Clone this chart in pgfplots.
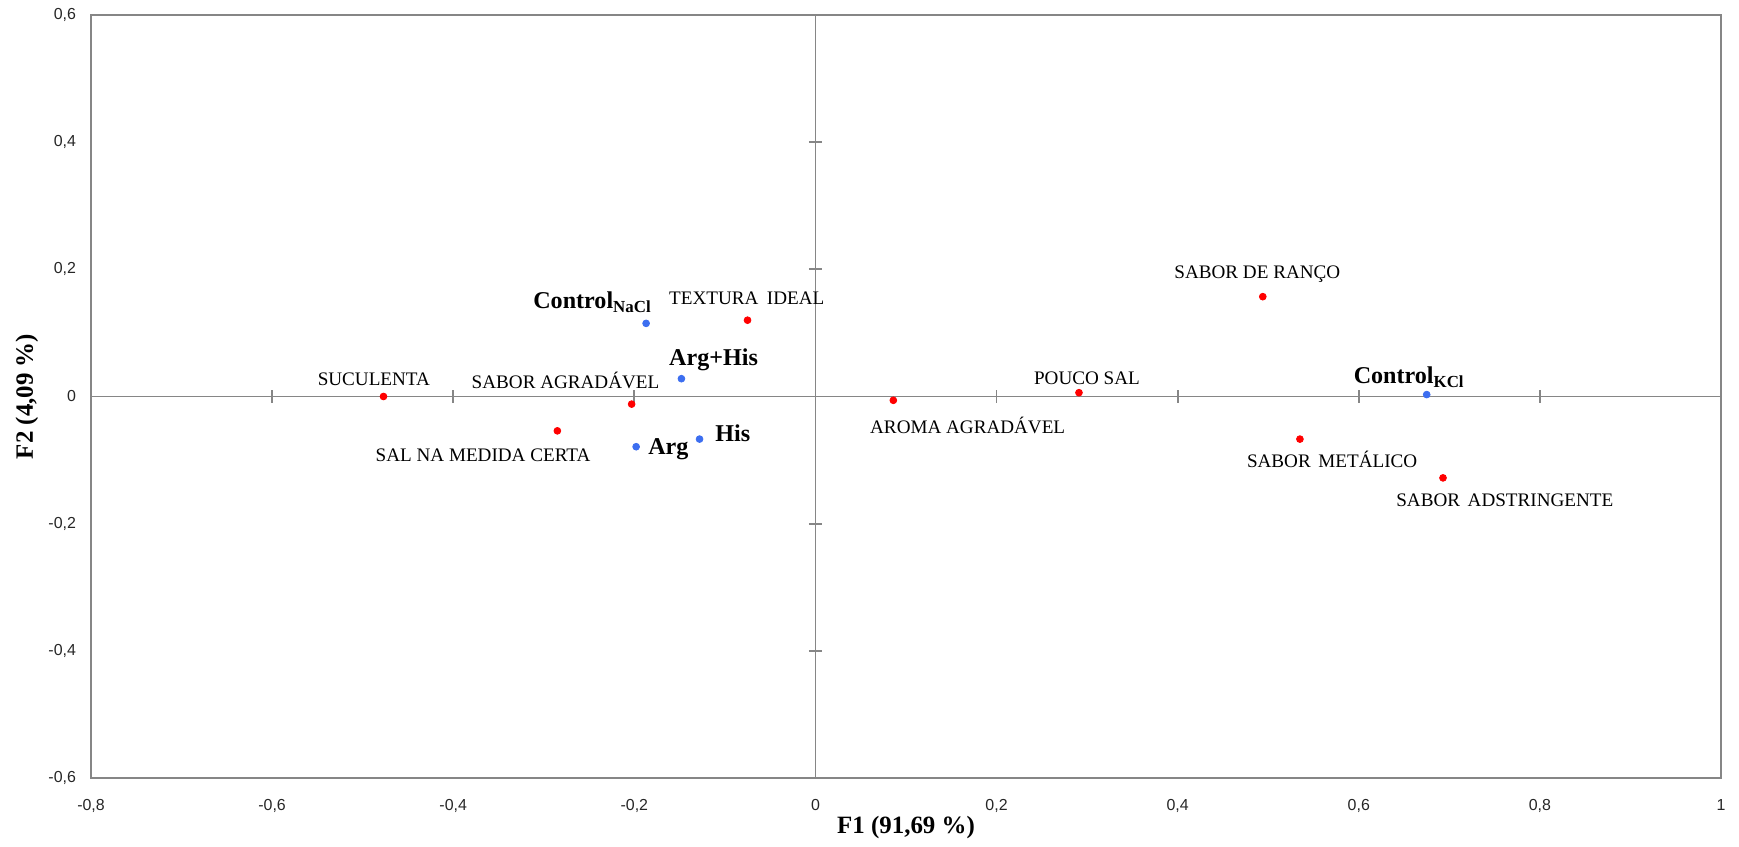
\documentclass[border=0pt]{standalone}
\usepackage{fontspec}
\setmainfont{Liberation Serif}
\newfontfamily\ticksans{Liberation Sans}
\usepackage{pgfplots}
\pgfplotsset{compat=1.18}
\definecolor{ptred}{RGB}{255,0,0}
\definecolor{ptblue}{RGB}{60,110,240}
\definecolor{axgray}{RGB}{134,134,134}
\newcommand\lab{\fontsize{9.6}{11}\selectfont}
\newcommand\blab{\bfseries\fontsize{12.1}{14}\selectfont}

\pgfplotstableread{
x y
-0.477 0.000
-0.285 -0.054
-0.203 -0.012
-0.075 0.120
0.086 -0.006
0.291 0.006
0.494 0.157
0.535 -0.067
0.693 -0.128
}\attributes

\pgfplotstableread{
x y
-0.187 0.115
-0.148 0.028
-0.198 -0.079
-0.128 -0.067
0.675 0.003
}\samples

\begin{document}
\begin{tikzpicture}
\useasboundingbox (-45.5bp,-34.5bp) rectangle (824bp,389bp);
\pgfplotsset{common/.style={scale only axis, width=815bp, height=381.5bp,
  xmin=-0.8, xmax=1, ymin=-0.6, ymax=0.6,
  xtick={-0.8,-0.6,-0.4,-0.2,0,0.2,0.4,0.6,0.8,1},
  ytick={-0.6,-0.4,-0.2,0,0.2,0.4,0.6},
  at={(0,0)}, anchor=south west}}
\begin{axis}[common,
  axis line style={axgray, line width=0.9bp},
  major tick length=0pt, tick style={draw=none},
  ticklabel style={font=\ticksans\fontsize{8}{9}\selectfont, text=black!85},
  /pgf/number format/.cd, use comma, assume math mode=true, /pgfplots/.cd,
  xticklabel style={yshift=-7bp},
  yticklabel style={xshift=-4bp},
  xlabel={F1 (91,69 \%)}, ylabel={F2 (4,09 \%)},
  label style={font=\bfseries\fontsize{12.5}{14}\selectfont},
  xlabel style={at={(axis description cs:0.5,-0.0655)}, anchor=center},
  ylabel style={at={(axis description cs:-0.0393,0.5)}, anchor=center}]
\end{axis}
\begin{axis}[common, axis lines=middle,
  axis line style={axgray, line width=0.9bp, -},
  tick style={axgray, line width=0.9bp},
  major tick length=6.5bp, tick align=center,
  xticklabels={}, yticklabels={}, clip=false]
\addplot[only marks, mark=*, mark size=1.7bp, mark options={draw=ptred, fill=ptred}] table {\attributes};
\addplot[only marks, mark=*, mark size=1.7bp, mark options={draw=ptblue, fill=ptblue}] table {\samples};
\node[anchor=base west, inner sep=0, font=\lab] at (axis cs:-0.550,0.018) {SUCULENTA};
\node[anchor=base west, inner sep=0, font=\lab] at (axis cs:-0.380,0.0125) {SABOR AGRADÁVEL};
\node[anchor=base west, inner sep=0, font=\lab] at (axis cs:-0.486,-0.102) {SAL NA MEDIDA CERTA};
\node[anchor=base west, inner sep=0, font=\lab] at (axis cs:-0.162,0.144) {TEXTURA\hspace{0.45em}IDEAL};
\node[anchor=base west, inner sep=0, font=\lab] at (axis cs:0.060,-0.058) {AROMA AGRADÁVEL};
\node[anchor=base west, inner sep=0, font=\lab] at (axis cs:0.241,0.019) {POUCO SAL};
\node[anchor=base west, inner sep=0, font=\lab] at (axis cs:0.396,0.186) {SABOR DE RANÇO};
\node[anchor=base east, inner sep=0, font=\lab] at (axis cs:0.665,-0.111) {SABOR\hspace{0.4em}METÁLICO};
\node[anchor=base west, inner sep=0, font=\lab] at (axis cs:0.641,-0.173) {SABOR\hspace{0.4em}ADSTRINGENTE};
\node[anchor=base west, inner sep=0, font=\blab] at (axis cs:-0.312,0.138) {Control\textsubscript{NaCl}};
\node[anchor=base west, inner sep=0, font=\blab] at (axis cs:-0.162,0.049) {Arg+His};
\node[anchor=base west, inner sep=0, font=\blab] at (axis cs:-0.185,-0.091) {Arg};
\node[anchor=base west, inner sep=0, font=\blab] at (axis cs:-0.111,-0.071) {His};
\node[anchor=base west, inner sep=0, font=\blab] at (axis cs:0.594,0.020) {Control\textsubscript{KCl}};
\end{axis}
\end{tikzpicture}
\end{document}
